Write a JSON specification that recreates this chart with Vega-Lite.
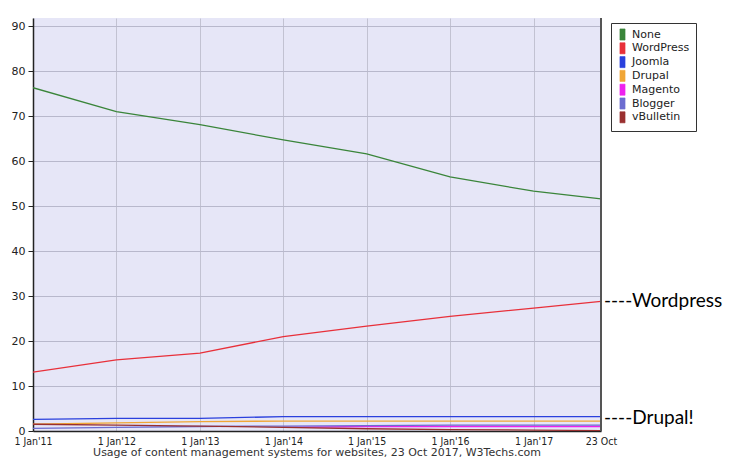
{
  "$schema": "https://vega.github.io/schema/vega-lite/v6.json",
  "width": 568,
  "height": 413,
  "autosize": {"type": "none"},
  "padding": {"left": 33, "top": 18, "right": 147, "bottom": 34},
  "background": "white",
  "config": {
    "view": {"stroke": null, "fill": "#e6e6f7"},
    "font": "DejaVu Sans"
  },
  "title": {
    "text": "Usage of content management systems for websites, 23 Oct 2017, W3Techs.com",
    "orient": "bottom",
    "anchor": "middle",
    "font": "DejaVu Sans",
    "fontSize": 11,
    "fontWeight": "normal",
    "color": "#333333",
    "offset": 0
  },
  "layer": [
    {
      "data": {
        "values": [
          {"date": "2011-01-01", "cms": "None", "value": 76.3},
          {"date": "2012-01-01", "cms": "None", "value": 71.0},
          {"date": "2013-01-01", "cms": "None", "value": 68.1},
          {"date": "2014-01-01", "cms": "None", "value": 64.7},
          {"date": "2015-01-01", "cms": "None", "value": 61.6},
          {"date": "2016-01-01", "cms": "None", "value": 56.5},
          {"date": "2017-01-01", "cms": "None", "value": 53.3},
          {"date": "2017-10-23", "cms": "None", "value": 51.6},
          {"date": "2011-01-01", "cms": "WordPress", "value": 13.1},
          {"date": "2012-01-01", "cms": "WordPress", "value": 15.8},
          {"date": "2013-01-01", "cms": "WordPress", "value": 17.3},
          {"date": "2014-01-01", "cms": "WordPress", "value": 21.0},
          {"date": "2015-01-01", "cms": "WordPress", "value": 23.3},
          {"date": "2016-01-01", "cms": "WordPress", "value": 25.5},
          {"date": "2017-01-01", "cms": "WordPress", "value": 27.3},
          {"date": "2017-10-23", "cms": "WordPress", "value": 28.8},
          {"date": "2011-01-01", "cms": "Joomla", "value": 2.6},
          {"date": "2012-01-01", "cms": "Joomla", "value": 2.8},
          {"date": "2013-01-01", "cms": "Joomla", "value": 2.8},
          {"date": "2014-01-01", "cms": "Joomla", "value": 3.2},
          {"date": "2015-01-01", "cms": "Joomla", "value": 3.2},
          {"date": "2016-01-01", "cms": "Joomla", "value": 3.2},
          {"date": "2017-01-01", "cms": "Joomla", "value": 3.2},
          {"date": "2017-10-23", "cms": "Joomla", "value": 3.2},
          {"date": "2011-01-01", "cms": "Drupal", "value": 1.5},
          {"date": "2012-01-01", "cms": "Drupal", "value": 1.8},
          {"date": "2013-01-01", "cms": "Drupal", "value": 2.1},
          {"date": "2014-01-01", "cms": "Drupal", "value": 2.2},
          {"date": "2015-01-01", "cms": "Drupal", "value": 2.2},
          {"date": "2016-01-01", "cms": "Drupal", "value": 2.2},
          {"date": "2017-01-01", "cms": "Drupal", "value": 2.2},
          {"date": "2017-10-23", "cms": "Drupal", "value": 2.2},
          {"date": "2014-01-01", "cms": "Magento", "value": 0.8},
          {"date": "2015-01-01", "cms": "Magento", "value": 1.0},
          {"date": "2016-01-01", "cms": "Magento", "value": 1.0},
          {"date": "2017-01-01", "cms": "Magento", "value": 1.0},
          {"date": "2017-10-23", "cms": "Magento", "value": 1.0},
          {"date": "2011-01-01", "cms": "Blogger", "value": 0.6},
          {"date": "2012-01-01", "cms": "Blogger", "value": 0.8},
          {"date": "2013-01-01", "cms": "Blogger", "value": 1.0},
          {"date": "2014-01-01", "cms": "Blogger", "value": 1.1},
          {"date": "2015-01-01", "cms": "Blogger", "value": 1.2},
          {"date": "2016-01-01", "cms": "Blogger", "value": 1.3},
          {"date": "2017-01-01", "cms": "Blogger", "value": 1.3},
          {"date": "2017-10-23", "cms": "Blogger", "value": 1.3},
          {"date": "2011-01-01", "cms": "vBulletin", "value": 1.5},
          {"date": "2012-01-01", "cms": "vBulletin", "value": 1.3},
          {"date": "2013-01-01", "cms": "vBulletin", "value": 1.1},
          {"date": "2014-01-01", "cms": "vBulletin", "value": 0.8},
          {"date": "2015-01-01", "cms": "vBulletin", "value": 0.5},
          {"date": "2016-01-01", "cms": "vBulletin", "value": 0.3},
          {"date": "2017-01-01", "cms": "vBulletin", "value": 0.2},
          {"date": "2017-10-23", "cms": "vBulletin", "value": 0.1}
        ]
      },
      "mark": {"type": "line", "strokeWidth": 1.3, "clip": true},
      "encoding": {
        "x": {
          "field": "date",
          "type": "temporal",
          "scale": {"type": "utc", "domain": [{"year": 2011, "month": 1, "date": 1, "utc": true}, {"year": 2017, "month": 10, "date": 23, "utc": true}]},
          "axis": {
            "title": null,
            "values": [
              {"year": 2011, "month": 1, "date": 1, "utc": true},
              {"year": 2012, "month": 1, "date": 1, "utc": true},
              {"year": 2013, "month": 1, "date": 1, "utc": true},
              {"year": 2014, "month": 1, "date": 1, "utc": true},
              {"year": 2015, "month": 1, "date": 1, "utc": true},
              {"year": 2016, "month": 1, "date": 1, "utc": true},
              {"year": 2017, "month": 1, "date": 1, "utc": true},
              {"year": 2017, "month": 10, "date": 23, "utc": true}
            ],
            "labelExpr": "utcmonth(datum.value) == 9 ? '23 Oct' : utcFormat(datum.value, \"%-d %b'%y\")",
            "labelFont": "DejaVu Sans Condensed",
            "labelFontSize": 10.5,
            "labelColor": "#222222",
            "labelPadding": 5,
            "labelFlush": false,
            "labelOverlap": false,
            "domainColor": "#222222",
            "domainWidth": 1.5,
            "ticks": false,
            "grid": true,
            "gridColor": "#c2c2d2",
            "gridWidth": 1
          }
        },
        "y": {
          "field": "value",
          "type": "quantitative",
          "scale": {"domain": [0, 91.8], "nice": false, "zero": true},
          "axis": {
            "title": null,
            "values": [0, 10, 20, 30, 40, 50, 60, 70, 80, 90],
            "labelFont": "DejaVu Sans",
            "labelFontSize": 11,
            "labelColor": "#222222",
            "labelPadding": 3,
            "tickSize": 5,
            "tickColor": "#222222",
            "domainColor": "#222222",
            "domainWidth": 1.5,
            "grid": true,
            "gridColor": "#b8b8cc",
            "gridWidth": 1
          }
        },
        "color": {
          "field": "cms",
          "type": "nominal",
          "scale": {
            "domain": ["None", "WordPress", "Joomla", "Drupal", "Magento", "Blogger", "vBulletin"],
            "range": ["#3a853a", "#e8303a", "#2a40dd", "#f0a636", "#ee22ee", "#6c6cd0", "#9a3030"]
          },
          "legend": {
            "title": null,
            "orient": "none",
            "legendX": 578,
            "legendY": 5,
            "padding": 6,
            "strokeColor": "#333333",
            "fillColor": "white",
            "labelFont": "DejaVu Sans",
            "labelFontSize": 11,
            "labelColor": "#222222",
            "labelOffset": 4,
            "rowPadding": -1.2,
            "symbolType": "M-0.85,-1.85V1.85H0.85V-1.85Z",
            "symbolSize": 36,
            "symbolStrokeWidth": 0.6,
            "encode": {
              "symbols": {
                "update": {
                  "fill": {"scale": "color", "field": "value"},
                  "fillOpacity": {"value": 1},
                  "stroke": {"value": "#444444"},
                  "strokeWidth": {"value": 0.6}
                }
              }
            }
          }
        }
      }
    },
    {
      "data": {"values": [{"date": "2017-10-23"}]},
      "mark": {"type": "rule", "color": "#555555", "strokeWidth": 2},
      "encoding": {
        "x": {"field": "date", "type": "temporal"}
      }
    },
    {
      "data": {
        "values": [
          {"date": "2017-10-23", "value": 28.9, "label": "----Wordpress"},
          {"date": "2017-10-23", "value": 3.0, "label": "----Drupal!"}
        ]
      },
      "mark": {"type": "text", "align": "left", "baseline": "middle", "dx": 3, "font": "Lato", "fontSize": 19, "color": "#000000"},
      "encoding": {
        "x": {"field": "date", "type": "temporal"},
        "y": {"field": "value", "type": "quantitative"},
        "text": {"field": "label"}
      }
    }
  ]
}
